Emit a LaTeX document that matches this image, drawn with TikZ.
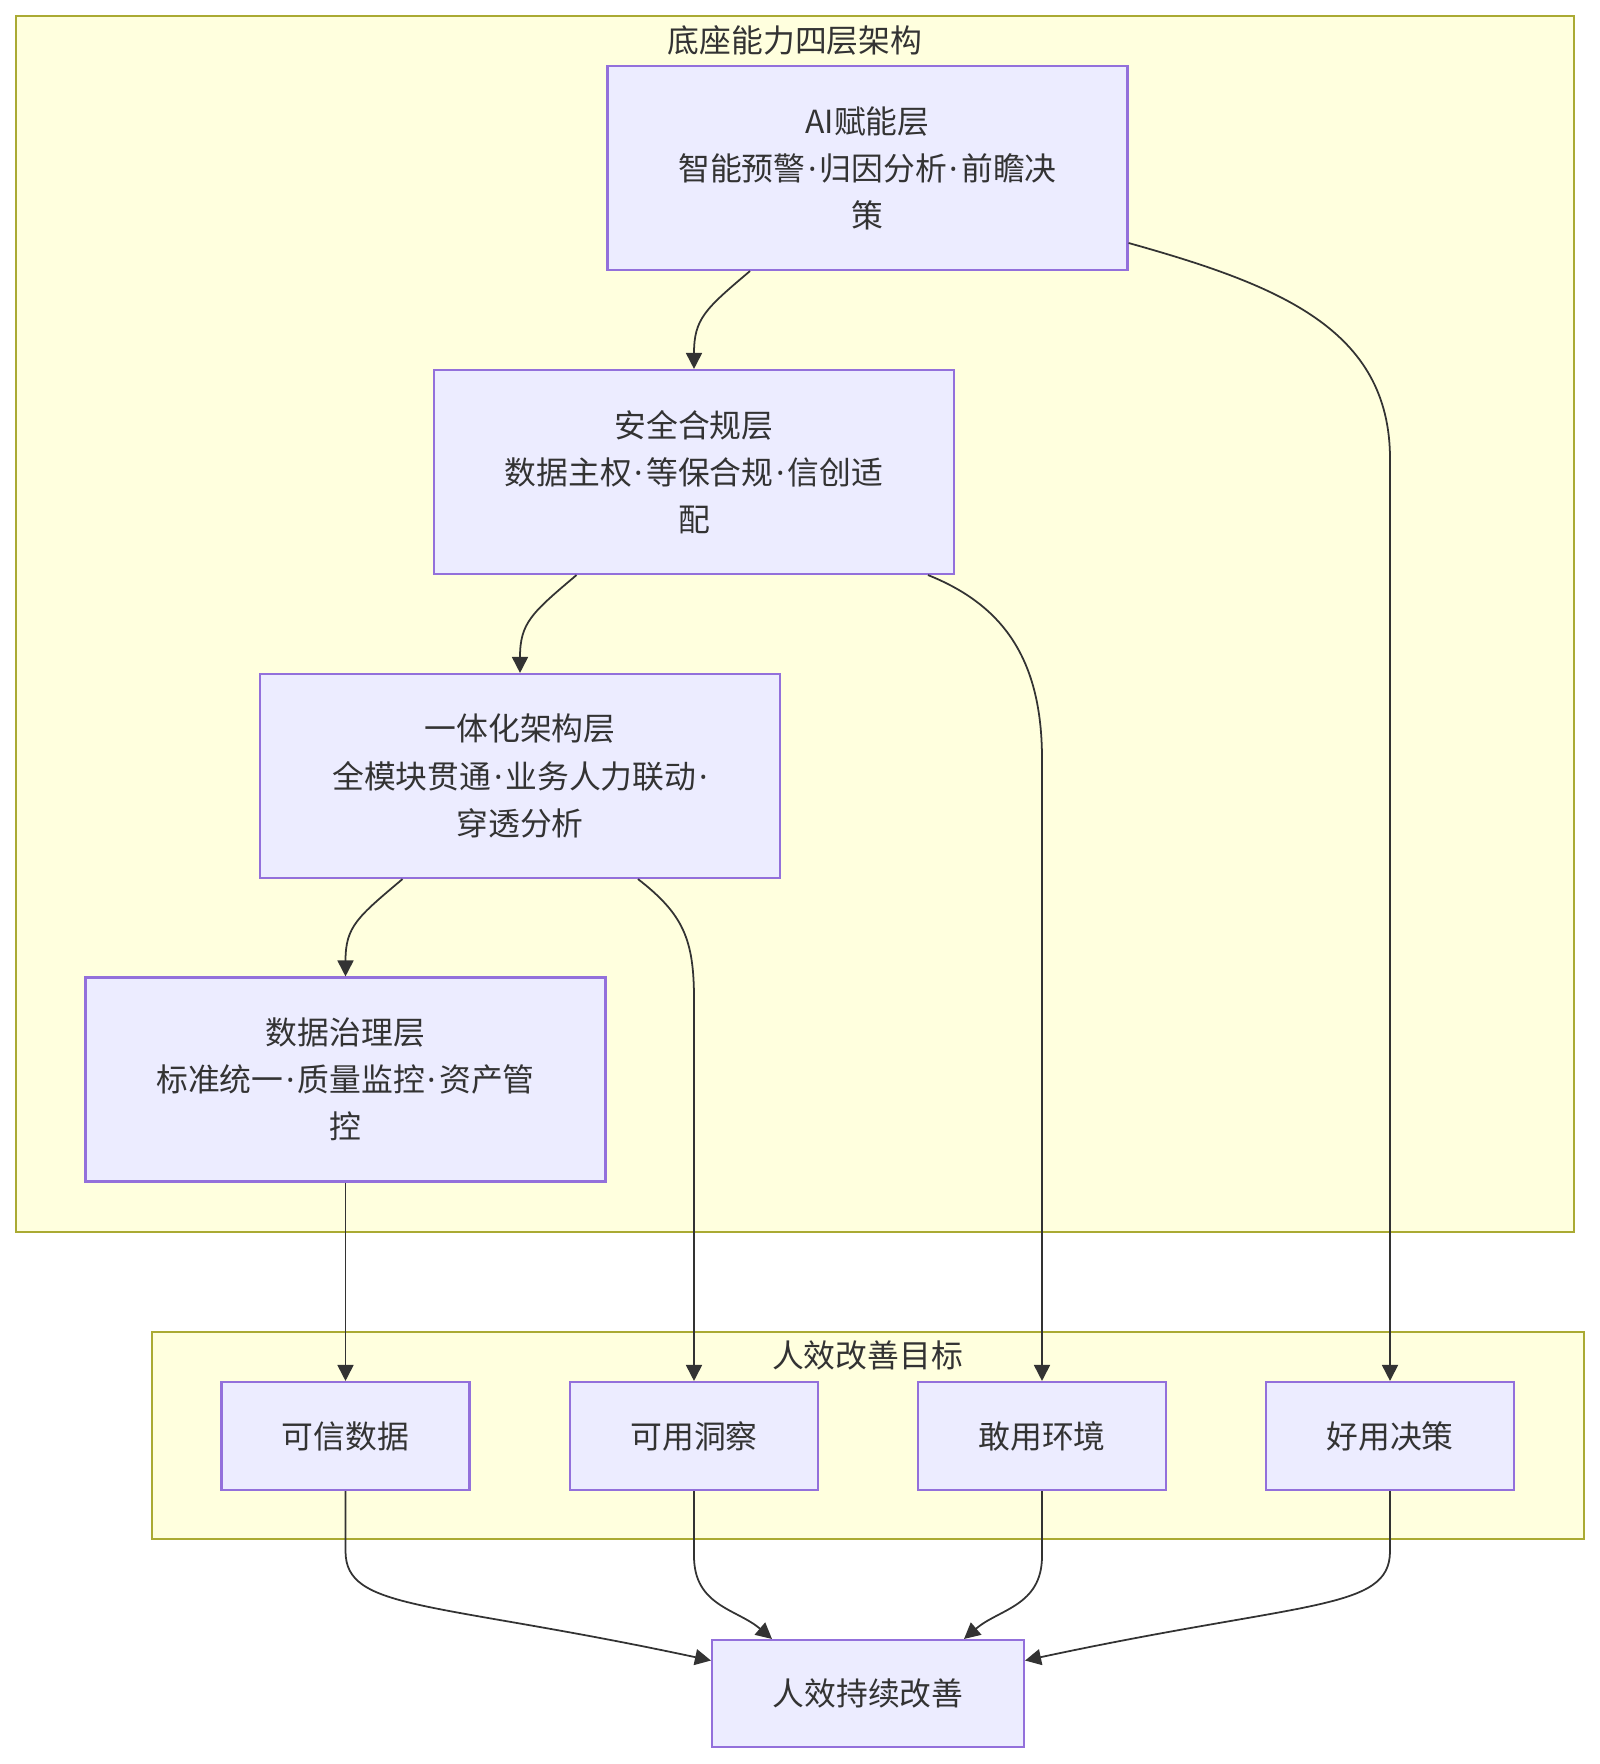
\documentclass[tikz,border=0pt]{standalone}
\usepackage{fontspec}
\setmainfont{Noto Sans CJK SC}
\newfontfamily\latinfont{Noto Sans}
\newcommand{\sepdot}{{\latinfont\hspace{0.09em}·\hspace{0.09em}}}
\usetikzlibrary{arrows.meta,positioning}
\definecolor{clusterfill}{RGB}{255,255,222}
\definecolor{clusterline}{RGB}{170,170,51}
\definecolor{boxfill}{RGB}{236,236,255}
\definecolor{boxline}{RGB}{147,112,219}
\definecolor{inkgray}{RGB}{51,51,51}

\begin{document}
\begin{tikzpicture}[
    every node/.style={font=\fontsize{9.05pt}{13.4pt}\selectfont, text=inkgray},
    cluster/.style={draw=clusterline, fill=clusterfill, line width=0.6pt, inner sep=0pt},
    layer/.style={draw=boxline, fill=boxfill, line width=0.6pt, align=center,
      minimum width=5.2cm, minimum height=2.04cm, inner sep=0pt},
    goal/.style={draw=boxline, fill=boxfill, line width=0.6pt,
      minimum width=2.48cm, minimum height=1.08cm, inner sep=0pt},
    edge/.style={-{Triangle[length=0.16cm,width=0.16cm]}, inkgray, line width=0.5pt}]
        \useasboundingbox (0,0) rectangle (16,-17.64);
        % Clusters
        \node[cluster, minimum width=15.58cm, minimum height=12.16cm] (base) at (7.95,-6.24) {};
        \node (basetitle) at (7.95,-0.405) {底座能力四层架构};
        \node[cluster, minimum width=14.32cm, minimum height=2.07cm] (goals) at (8.68,-14.355) {};
        \node (goaltitle) at (8.675,-13.55) {人效改善目标};
        % Four layers
        \node[layer] (ai) at (8.675,-1.68) {AI赋能层\\智能预警\sepdot 归因分析\sepdot 前瞻决\\策};
        \node[layer] (safe) at (6.94,-4.72) {安全合规层\\数据主权\sepdot 等保合规\sepdot 信创适\\配};
        \node[layer] (arch) at (5.20,-7.76) {一体化架构层\\全模块贯通\sepdot 业务人力联动\sepdot\\穿透分析};
        \node[layer] (gov) at (3.455,-10.795) {数据治理层\\标准统一\sepdot 质量监控\sepdot 资产管\\控};
        % Goals
        \foreach \name/\txt/\x in {trust/可信数据/3.455, insight/可用洞察/6.94,
                                   env/敢用环境/10.42, decide/好用决策/13.90} {
          \node[goal] (\name) at (\x,-14.36) {\txt};
        }
        \node[goal, minimum width=3.12cm, minimum height=1.07cm] (keep) at (8.68,-16.935) {人效持续改善};
        % Layer chain
        \draw[edge] ([xshift=-1.175cm]ai.south) .. controls +(-0.45,-0.38) and +(0,0.5) .. (safe.north);
        \draw[edge] ([xshift=-1.175cm]safe.south) .. controls +(-0.45,-0.38) and +(0,0.5) .. (arch.north);
        \draw[edge] ([xshift=-1.175cm]arch.south) .. controls +(-0.45,-0.38) and +(0,0.5) .. (gov.north);
        % Layers to goals
        \draw[edge] (gov.south) -- (trust.north);
        \draw[edge] ([xshift=1.18cm]arch.south) .. controls +(0.45,-0.35) and +(0,0.6)
          .. ([yshift=3.82cm]insight.north) -- (insight.north);
        \draw[edge] ([xshift=2.34cm]safe.south) .. controls +(0.75,-0.3) and +(0,1.0)
          .. ([yshift=6.22cm]env.north) -- (env.north);
        \draw[edge] ([yshift=-0.75cm]ai.east) .. controls +(1.5,-0.42) and +(0,1.3)
          .. ([yshift=9.22cm]decide.north) -- (decide.north);
        % Goals to result
        \draw[edge] (trust.south) -- ++(0,-0.6) .. controls +(0,-0.6) and +(-2.8,0.6)
          .. ([yshift=0.33cm]keep.west);
        \draw[edge] (insight.south) -- ++(0,-0.65) .. controls +(0,-0.5) and +(-0.35,0.3)
          .. ([xshift=-0.96cm]keep.north);
        \draw[edge] (env.south) -- ++(0,-0.65) .. controls +(0,-0.5) and +(0.35,0.3)
          .. ([xshift=0.96cm]keep.north);
        \draw[edge] (decide.south) -- ++(0,-0.6) .. controls +(0,-0.6) and +(2.8,0.6)
          .. ([yshift=0.33cm]keep.east);
      \end{tikzpicture}
\end{document}
